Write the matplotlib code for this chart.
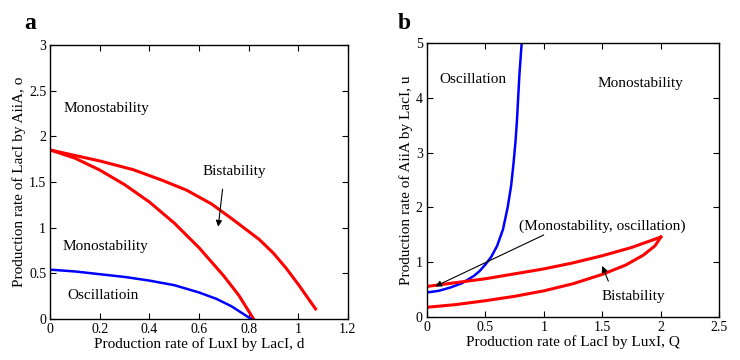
import matplotlib.pyplot as plt

plt.rcParams['font.family'] = ['Liberation Serif', 'DejaVu Serif']

# panel a: o vs d
a_upper_d = [0.0, 0.1, 0.2, 0.334, 0.45, 0.55, 0.65, 0.736, 0.843, 0.9, 0.95, 1.0, 1.07]
a_upper_o = [1.85, 1.79, 1.73, 1.635, 1.52, 1.41, 1.26, 1.09, 0.87, 0.72, 0.56, 0.38, 0.11]
a_lower_d = [0.0, 0.1, 0.2, 0.3, 0.4, 0.5, 0.6, 0.7, 0.76, 0.82]
a_lower_o = [1.85, 1.76, 1.63, 1.47, 1.28, 1.05, 0.78, 0.47, 0.26, 0.0]
a_blue_d = [0.0, 0.1, 0.2, 0.3, 0.4, 0.5, 0.6, 0.67, 0.73, 0.81]
a_blue_o = [0.54, 0.52, 0.49, 0.46, 0.42, 0.37, 0.29, 0.22, 0.14, 0.0]

# panel b: u vs Q
b_blue_q = [0.0, 0.1, 0.2, 0.3, 0.4, 0.45, 0.5, 0.55, 0.6, 0.65, 0.69, 0.72,
            0.74, 0.757, 0.77, 0.78, 0.79, 0.80, 0.81]
b_blue_u = [0.45, 0.48, 0.54, 0.62, 0.75, 0.84, 0.96, 1.1, 1.3, 1.6, 2.0, 2.4,
            2.8, 3.2, 3.6, 4.0, 4.4, 4.7, 5.0]
b_upper_q = [0.0, 0.25, 0.5, 0.75, 1.0, 1.25, 1.5, 1.75, 2.0]
b_upper_u = [0.56, 0.63, 0.70, 0.79, 0.88, 0.99, 1.12, 1.27, 1.46]
b_lower_q = [0.0, 0.25, 0.5, 0.75, 1.0, 1.25, 1.5, 1.7, 1.85, 1.95, 2.0]
b_lower_u = [0.18, 0.23, 0.30, 0.38, 0.48, 0.61, 0.78, 0.95, 1.13, 1.30, 1.46]

red = '#ff0000'
blue = '#0000ff'

fig = plt.figure(figsize=(7.4, 3.6), dpi=100)
ax1 = fig.add_axes([0.068, 0.114, 0.402, 0.761])
ax2 = fig.add_axes([0.577, 0.119, 0.395, 0.762])

ax1.plot(a_upper_d, a_upper_o, color=red, lw=2.2)
ax1.plot(a_lower_d, a_lower_o, color=red, lw=2.2)
ax1.plot(a_blue_d, a_blue_o, color=blue, lw=1.8)
ax1.set_xlim(0, 1.2)
ax1.set_ylim(0, 3)
ax1.set_xticks([0, 0.2, 0.4, 0.6, 0.8, 1, 1.2])
ax1.set_xticklabels(['0', '0.2', '0.4', '0.6', '0.8', '1', '1.2'])
ax1.set_yticks([0, 0.5, 1, 1.5, 2, 2.5, 3])
ax1.set_yticklabels(['0', '0.5', '1', '1.5', '2', '2.5', '3'])
ax1.set_xlabel('Production rate of LuxI by LacI, d', fontsize=11, labelpad=1)
ax1.set_ylabel('Production rate of LacI by AiiA, o', fontsize=11, labelpad=2)
ax1.text(0.053, 2.30, 'Monostability', fontsize=11, va='center')
ax1.text(0.615, 1.62, 'Bistability', fontsize=11, va='center')
ax1.text(0.05, 0.79, 'Monostability', fontsize=11, va='center')
ax1.text(0.067, 0.26, 'Oscillatioin', fontsize=11, va='center')
ax1.annotate('', xy=(0.676, 0.98), xytext=(0.696, 1.45),
             arrowprops=dict(arrowstyle='-|>', color='k', lw=0.8, mutation_scale=9))
fig.text(0.033, 0.92, 'a', fontsize=17, fontweight='bold')

ax2.plot(b_blue_q, b_blue_u, color=blue, lw=1.8)
ax2.plot(b_upper_q, b_upper_u, color=red, lw=2.2)
ax2.plot(b_lower_q, b_lower_u, color=red, lw=2.2)
ax2.set_xlim(0, 2.5)
ax2.set_ylim(0, 5)
ax2.set_xticks([0, 0.5, 1, 1.5, 2, 2.5])
ax2.set_xticklabels(['0', '0.5', '1', '1.5', '2', '2.5'])
ax2.set_yticks([0, 1, 2, 3, 4, 5])
ax2.set_xlabel('Production rate of LacI by LuxI, Q', fontsize=11, labelpad=1)
ax2.set_ylabel('Production rate of AiiA by LacI, u', fontsize=11, labelpad=2)
ax2.text(0.11, 4.33, 'Oscillation', fontsize=11, va='center')
ax2.text(1.46, 4.26, 'Monostability', fontsize=11, va='center')
ax2.text(0.79, 1.65, '(Monostability, oscillation)', fontsize=11, va='center')
ax2.text(1.49, 0.37, 'Bistability', fontsize=11, va='center')
ax2.annotate('', xy=(0.05, 0.54), xytext=(1.02, 1.52),
             arrowprops=dict(arrowstyle='-|>', color='k', lw=0.8, mutation_scale=9))
ax2.annotate('', xy=(1.49, 0.98), xytext=(1.56, 0.61),
             arrowprops=dict(arrowstyle='-|>', color='k', lw=0.8, mutation_scale=9))
fig.text(0.537, 0.92, 'b', fontsize=17, fontweight='bold')

for ax in (ax1, ax2):
    ax.tick_params(direction='in', top=True, right=True, labelsize=10, pad=3, length=4)
    for s in ax.spines.values():
        s.set_linewidth(1.0)

fig.savefig('out.png', dpi=100)
